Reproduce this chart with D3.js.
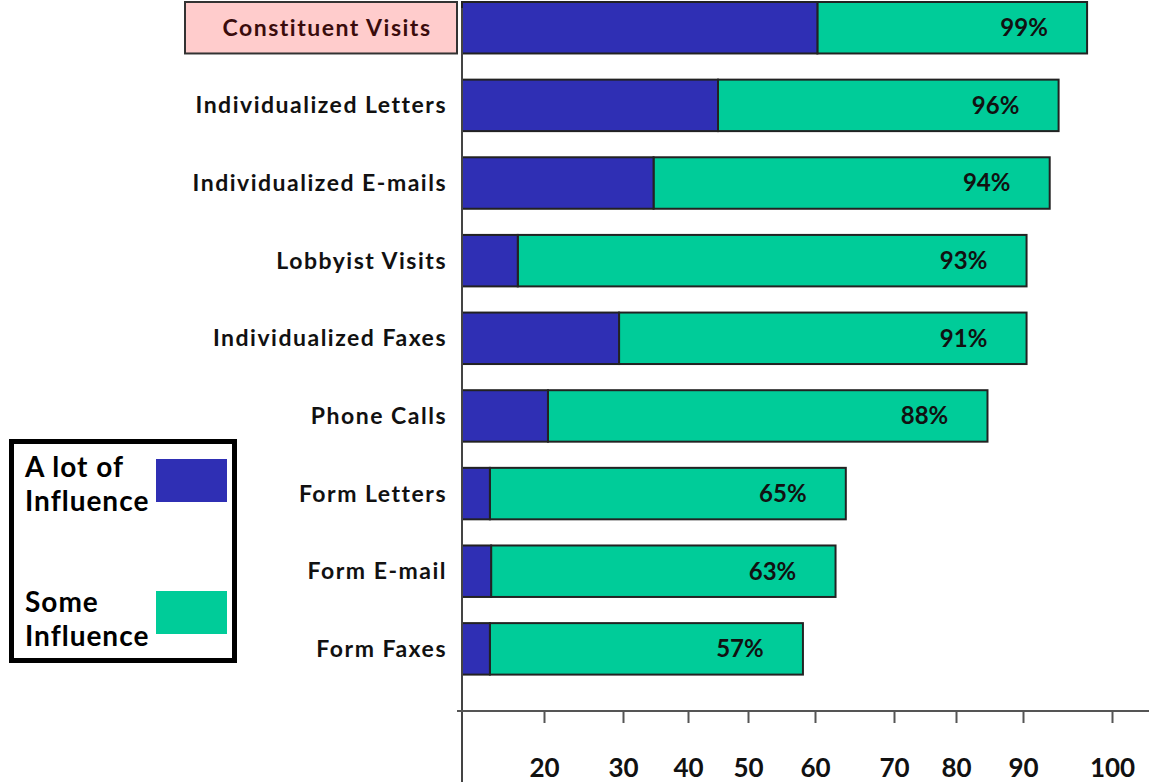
<!DOCTYPE html>
<html>
<head>
<meta charset="utf-8">
<script src="https://d3js.org/d3.v7.min.js"></script>
<style>
  html, body { margin: 0; padding: 0; background: #fff; }
  svg { display: block; font-family: "Lato", "DejaVu Sans", sans-serif; font-weight: 700; }
</style>
</head>
<body>
<svg id="chart" width="1149" height="782"></svg>
<script>
// ---- data ----
const categories = ["Constituent Visits", "Individualized Letters", "Individualized E-mails",
  "Lobbyist Visits", "Individualized Faxes", "Phone Calls", "Form Letters", "Form E-mail", "Form Faxes"];
// "A lot of Influence"
const aLotValues = [60.3, 45.0, 34.7, 13.6, 29.5, 20.5, 6.8, 7.1, 6.8];
// total (A lot + Some) bar end
const totalValues = [97.2, 94.0, 93.0, 90.4, 90.4, 84.7, 63.9, 62.6, 58.2];
const pctLabels = ["99%", "96%", "94%", "93%", "91%", "88%", "65%", "63%", "57%"];
const tickValues = [20, 30, 40, 50, 60, 70, 80, 90, 100];
const legendLabels = [["A lot of", "Influence"], ["Some", "Influence"]];

// ---- setup ----
const W = 1149, H = 782;
const svg = d3.select("#chart");
const colors = { alot: "#2F2FB4", some: "#00CC99" };

// the printed axis is irregularly spaced; reproduce it with a piecewise linear scale
const x = d3.scaleLinear()
  .domain([0].concat(tickValues))
  .range([462, 544, 623, 688, 748, 815, 894, 956, 1023, 1112]);

const y = d3.scaleBand()
  .domain(categories)
  .range([2, 674.6])
  .paddingInner(0.337)
  .paddingOuter(0);

// ---- highlight box for first category ----
const first = categories[0];
svg.append("rect")
  .attr("x", 185).attr("y", y(first))
  .attr("width", 272).attr("height", y.bandwidth())
  .attr("fill", "#FFCCCC").attr("stroke", "#333").attr("stroke-width", 2);

// ---- bars ----
const rows = categories.map((c, i) => ({ c, a: aLotValues[i], t: totalValues[i], p: pctLabels[i] }));

const g = svg.append("g");
g.selectAll("rect.some").data(rows).join("rect")
  .attr("class", "some")
  .attr("x", d => x(d.a)).attr("y", d => y(d.c))
  .attr("width", d => x(d.t) - x(d.a)).attr("height", y.bandwidth())
  .attr("fill", colors.some).attr("stroke", "#222").attr("stroke-width", 2);
g.selectAll("rect.alot").data(rows).join("rect")
  .attr("class", "alot")
  .attr("x", x(0)).attr("y", d => y(d.c))
  .attr("width", d => x(d.a) - x(0)).attr("height", y.bandwidth())
  .attr("fill", colors.alot).attr("stroke", "#222").attr("stroke-width", 2);

// percentage labels
g.selectAll("text.pct").data(rows).join("text")
  .attr("class", "pct")
  .attr("x", d => x(d.t) - 63)
  .attr("y", d => y(d.c) + y.bandwidth() / 2)
  .attr("dy", "0.35em")
  .attr("text-anchor", "middle")
  .attr("font-size", 24).attr("fill", "#111")
  .text(d => d.p);

// category labels
svg.append("g").selectAll("text").data(categories).join("text")
  .attr("x", (d, i) => i === 0 ? 327 : 447)
  .attr("y", d => y(d) + y.bandwidth() / 2)
  .attr("dy", "0.35em")
  .attr("text-anchor", (d, i) => i === 0 ? "middle" : "end")
  .attr("font-size", 23)
  .attr("letter-spacing", 1.5)
  .attr("fill", (d, i) => i === 0 ? "#3a0c0c" : "#111")
  .text(d => d);

// ---- axes ----
const axisY = 711;
svg.append("line")
  .attr("x1", x(0)).attr("x2", x(0)).attr("y1", 8).attr("y2", H)
  .attr("stroke", "#444").attr("stroke-width", 2);

const xAxis = svg.append("g")
  .attr("transform", `translate(0,${axisY})`)
  .call(d3.axisBottom(x).tickValues(tickValues).tickSize(12).tickPadding(36).tickFormat(d3.format("d")));
xAxis.select(".domain").remove();
xAxis.selectAll(".tick line").attr("stroke", "#555").attr("stroke-width", 2);
xAxis.selectAll(".tick text")
  .attr("font-size", 26).attr("font-family", "Lato, sans-serif").attr("font-weight", 700).attr("fill", "#111");
svg.append("line")
  .attr("x1", x(0) - 5).attr("x2", W).attr("y1", axisY).attr("y2", axisY)
  .attr("stroke", "#555").attr("stroke-width", 2);

// ---- legend ----
const leg = svg.append("g");
leg.append("rect")
  .attr("x", 11.5).attr("y", 441.5).attr("width", 223).attr("height", 219)
  .attr("fill", "#fff").attr("stroke", "#000").attr("stroke-width", 5);
const legendItems = [
  { key: "alot", lines: legendLabels[0], top: 459, base: 477 },
  { key: "some", lines: legendLabels[1], top: 591, base: 612 }
];
legendItems.forEach(it => {
  leg.append("rect").attr("x", 156).attr("y", it.top).attr("width", 71).attr("height", 43)
    .attr("fill", colors[it.key]);
  it.lines.forEach((t, j) => {
    leg.append("text").attr("x", 25).attr("y", it.base + j * 34)
      .attr("font-size", 28).attr("letter-spacing", 1).attr("fill", "#000").text(t);
  });
});
</script>
</body>
</html>
